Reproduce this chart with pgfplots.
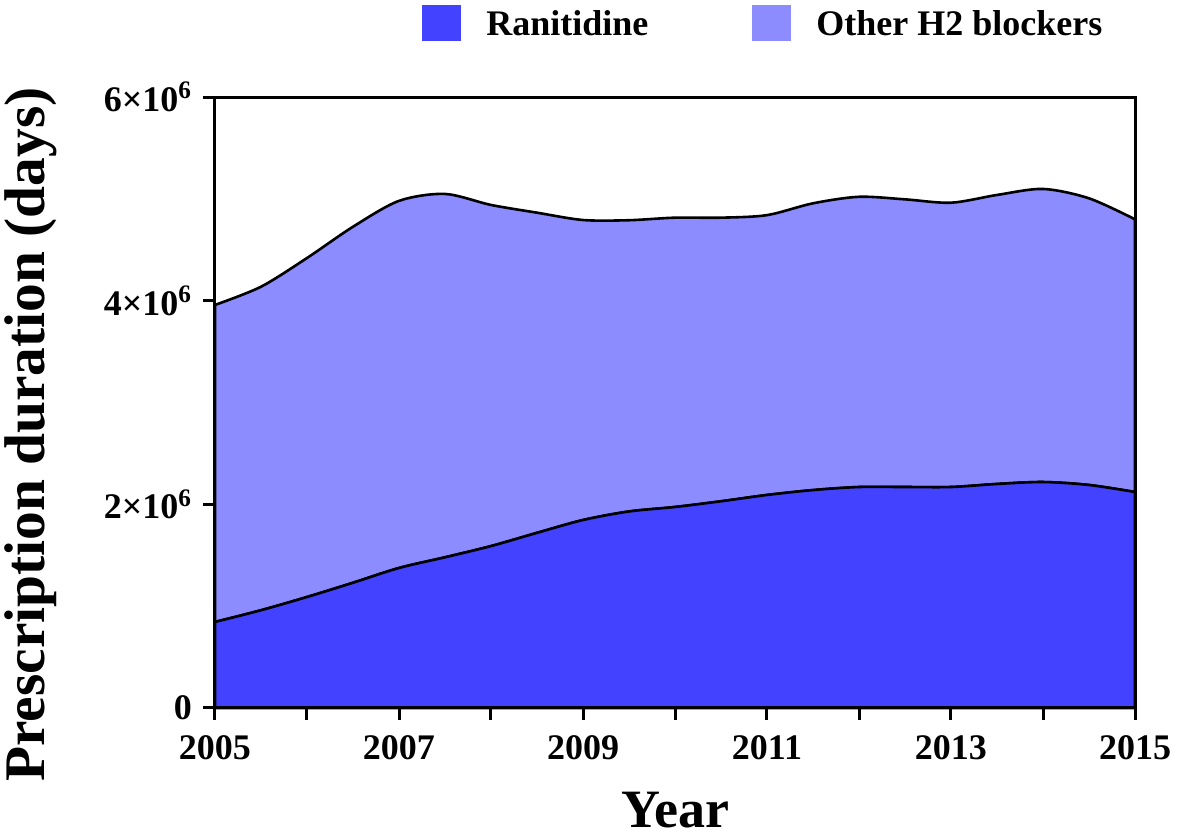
\documentclass[border=0pt]{standalone}
\usepackage{pgfplots}
\pgfplotsset{compat=1.18}
\usepackage{fontspec}
\setmainfont{Liberation Serif}
\definecolor{ran}{RGB}{66,66,255}
\definecolor{oth}{RGB}{140,140,255}
\begin{document}
\begin{tikzpicture}
\useasboundingbox (0,0) rectangle (589pt,420pt);
\begin{axis}[
  at={(107.5pt,66pt)}, anchor=south west,
  scale only axis, width=460pt, height=305.5pt,
  xmin=2005, xmax=2015, ymin=0, ymax=6000000,
  axis line style={line width=1.5pt},
  xtick={2005,2006,...,2015},
  xticklabels={2005,,2007,,2009,,2011,,2013,,2015},
  ytick={0,2000000,4000000,6000000},
  yticklabels={0,2×10\textsuperscript{6},4×10\textsuperscript{6},6×10\textsuperscript{6}},
  scaled y ticks=false,
  tick align=outside,
  xtick pos=bottom, ytick pos=left,
  major tick length=6pt,
  tick style={line width=1.5pt, black},
  ticklabel style={font=\fontsize{18}{20}\selectfont\bfseries},
  xticklabel style={yshift=-4pt},
  yticklabel style={xshift=-2pt},
  xlabel={Year},
  ylabel={Prescription duration (days)},
  xlabel style={font=\fontsize{27}{30}\selectfont\bfseries, at={(axis description cs:0.5,-0.196)}, anchor=base},
  ylabel style={font=\fontsize{28.7}{30}\selectfont\bfseries, at={(axis description cs:-0.2,0.4476)}, anchor=center},
  stack plots=y,
  area style,
  legend columns=2,
  legend style={draw=none, fill=none, at={(0.225,1.121)}, anchor=west, inner sep=0pt,
    font=\fontsize{18}{20}\selectfont\bfseries,
    /tikz/every even column/.append style={column sep=52pt},
    nodes={inner sep=0pt, text depth=0pt}},
  legend cell align=left,
  legend image code/.code={\fill[#1, draw=none] (0pt,-9pt) rectangle (19.5pt,9pt);},
  clip=false,
]
\addplot[fill=ran, draw=black, line width=1.3pt, smooth, tension=0.5] coordinates {
 (2005,845000) (2005.5,960000) (2006,1090000) (2006.5,1230000) (2007,1375000)
 (2007.5,1480000) (2008,1590000) (2008.5,1720000) (2009,1846000) (2009.5,1930000)
 (2010,1974000) (2010.5,2030000) (2011,2092000) (2011.5,2140000) (2012,2170000)
 (2012.5,2170000) (2013,2170000) (2013.5,2200000) (2014,2219000) (2014.5,2190000)
 (2015,2121000)
} \closedcycle;
\addlegendentry{\hspace{12.5pt}Ranitidine}
\addplot[fill=oth, draw=black, line width=1.3pt, smooth, tension=0.5] coordinates {
 (2005,3113000) (2005.5,3177000) (2006,3329000) (2006.5,3496000) (2007,3605000)
 (2007.5,3568000) (2008,3350000) (2008.5,3144000) (2009,2946000) (2009.5,2860000)
 (2010,2841000) (2010.5,2785000) (2011,2748000) (2011.5,2816000) (2012,2850000)
 (2012.5,2825000) (2013,2792000) (2013.5,2838000) (2014,2878000) (2014.5,2815000)
 (2015,2678000)
} \closedcycle;
\addlegendentry{\hspace{12.5pt}Other H2 blockers}
\end{axis}
\end{tikzpicture}
\end{document}
